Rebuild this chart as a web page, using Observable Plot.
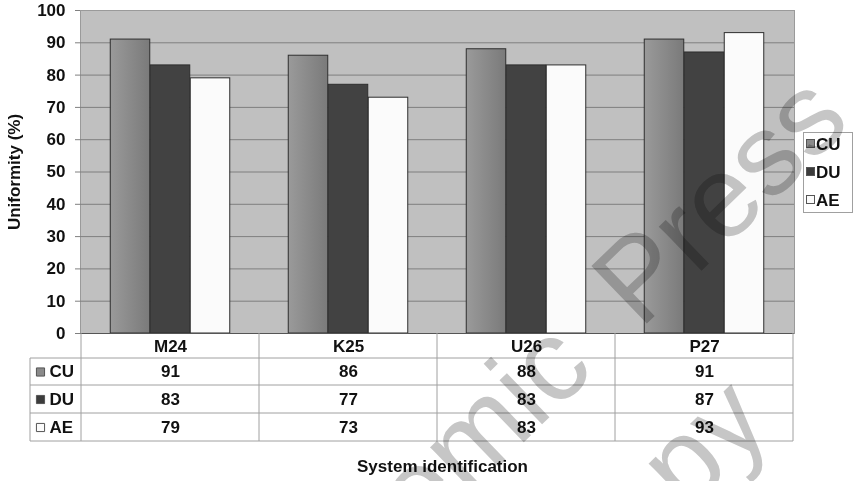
<!DOCTYPE html>
<html><head><meta charset="utf-8">
<script src="https://cdn.jsdelivr.net/npm/d3@7"></script>
<script src="https://cdn.jsdelivr.net/npm/@observablehq/plot@0.6"></script>
<style>
html,body{margin:0;padding:0;background:#fff;}
#chart{position:relative;width:855px;height:481px;overflow:hidden;}
svg{overflow:visible;}
</style></head><body><div id="chart"></div>
<script>
// ---- data ----
const systems = ["M24", "K25", "U26", "P27"];
const series = ["CU", "DU", "AE"];
const cuValues = [91, 86, 88, 91];
const duValues = [83, 77, 83, 87];
const aeValues = [79, 73, 83, 93];
const yTicks = [0, 10, 20, 30, 40, 50, 60, 70, 80, 90, 100];
const yLabel = "Uniformity (%)";
const xLabel = "System identification";
const watermark1a = "Academic";
const watermark1b = "Press";
const watermark2 = "Copy";

// ---- styles ----
const fillBySeries = {CU: "url(#cuGrad)", DU: "#424242", AE: "#fbfbfb"};
const swatchBySeries = {CU: "#8a8a8a", DU: "#3c3c3c", AE: "#fbfbfb"};
const FONT = "'Liberation Sans', Arial, Helvetica, sans-serif";
const W = 855, H = 481, mL = 80, mR = 61, mT = 10, mB = 148;
const bw = (W - mL - mR) / systems.length;
const barW = 40, gap = (bw - 3 * barW) / 2;
const rowDy = [38.5, 66, 94];   // table rows below the x axis
const headDy = 13;
const FS = 17;

const valuesBySeries = {CU: cuValues, DU: duValues, AE: aeValues};
const rows = series.flatMap(s => systems.map((sys, j) => ({series: s, system: sys, value: valuesBySeries[s][j]})));

const txt = {fontSize: FS, fontWeight: "bold", fill: "#111", lineAnchor: "middle"};

const chart = Plot.plot({
  width: W, height: H,
  marginLeft: mL, marginRight: mR, marginTop: mT, marginBottom: mB,
  style: {fontFamily: FONT, background: "transparent", overflow: "visible"},
  x: {domain: systems, padding: 0, axis: null},
  y: {domain: [0, 100], axis: null},
  marks: [
    Plot.frame({fill: "#c0c0c0", stroke: "#9a9a9a"}),
    Plot.ruleY(yTicks.filter(t => t > 0 && t < 100), {stroke: "#7f7f7f", strokeWidth: 1}),
    ...series.map((s, i) => Plot.barY(rows.filter(r => r.series === s), {
      x: "system", y: "value", fill: fillBySeries[s], stroke: "#2e2e2e", strokeWidth: 1,
      insetLeft: gap + barW * i, insetRight: bw - gap - barW * (i + 1)
    })),
    Plot.ruleY([0], {stroke: "#555", strokeWidth: 1}),
    Plot.axisY({ticks: yTicks, tickSize: 5, tickPadding: 10, label: null, stroke: "#808080",
      fontSize: FS, fontWeight: "bold", fill: "#111"}),
    // y-axis title
    Plot.text([yLabel], {frameAnchor: "left", dx: -66, rotate: -90, text: d => d, ...txt, textAnchor: "middle"}),
    // table header (categories)
    Plot.text(systems, {x: d => d, text: d => d, frameAnchor: "bottom", dy: headDy, ...txt}),
    // table values
    ...series.map((s, i) => Plot.text(rows.filter(r => r.series === s), {
      x: "system", text: d => String(d.value), frameAnchor: "bottom", dy: rowDy[i], ...txt
    })),
    // row labels with swatches
    ...series.map((s, i) => Plot.text([s], {frameAnchor: "bottom-left", dx: -31, dy: rowDy[i], textAnchor: "start", text: d => d, ...txt})),
    ...series.map((s, i) => Plot.dot([s], {frameAnchor: "bottom-left", dx: -40, dy: rowDy[i], symbol: "square", r: 4.6, fill: swatchBySeries[s], stroke: "#555", strokeWidth: 1})),
    // x title
    Plot.text([xLabel], {frameAnchor: "bottom", dx: 5, dy: 133, text: d => d, ...txt, textAnchor: "middle"})
  ]
});

document.getElementById("chart").appendChild(chart);

// ---- extras: gradient, table grid, legend, watermark ----
const svg = d3.select(chart);
const defs = svg.insert("defs", ":first-child");
const g = defs.append("linearGradient").attr("id", "cuGrad").attr("x1", "0").attr("x2", "1").attr("y1", "0").attr("y2", "0");
g.append("stop").attr("offset", "0").attr("stop-color", "#9a9a9a");
g.append("stop").attr("offset", "1").attr("stop-color", "#7a7a7a");

const xs = chart.scale("x"), ys = chart.scale("y");
const y0 = ys.apply(0);
const xEnd = xs.apply(systems[systems.length - 1]) + xs.bandwidth;
const grid = svg.append("g").attr("stroke", "#a0a0a0").attr("stroke-width", 1).attr("fill", "none");
const lineYs = [25, 52, 80, 108].map(d => y0 + d);
lineYs.forEach(y => grid.append("line").attr("x1", 30).attr("x2", xEnd).attr("y1", y).attr("y2", y));
systems.forEach(s => grid.append("line").attr("x1", xs.apply(s)).attr("x2", xs.apply(s)).attr("y1", y0).attr("y2", lineYs[3]));
grid.append("line").attr("x1", xEnd).attr("x2", xEnd).attr("y1", y0).attr("y2", lineYs[3]);
grid.append("line").attr("x1", 30).attr("x2", 30).attr("y1", lineYs[0]).attr("y2", lineYs[3]);

// legend
const lg = svg.append("g").attr("font-family", FONT).attr("font-weight", "bold").attr("font-size", FS).attr("text-anchor", "start");
lg.append("rect").attr("x", 803.5).attr("y", 132.5).attr("width", 49).attr("height", 80).attr("fill", "#fff").attr("stroke", "#a0a0a0");
series.forEach((s, i) => {
  const cy = 143.5 + i * 28;
  lg.append("rect").attr("x", 806.5).attr("y", cy - 4).attr("width", 8).attr("height", 8).attr("fill", swatchBySeries[s]).attr("stroke", "#555");
  lg.append("text").attr("x", 816).attr("y", cy).attr("dy", "0.36em").attr("fill", "#111").attr("text-anchor", "start").text(s);
});

// watermark
const wm = svg.append("g").style("mix-blend-mode", "multiply").attr("fill", "#c6c6c6")
  .attr("font-family", FONT).attr("font-size", 116).attr("text-anchor", "start");
const w1 = wm.append("g").attr("transform", "translate(640,330) rotate(-44)");
w1.append("text").attr("text-anchor", "start").text(watermark1b);
w1.append("text").attr("text-anchor", "end").attr("x", -60).text(watermark1a);
wm.append("g").attr("transform", "translate(774,428) rotate(-44)")
  .append("text").attr("text-anchor", "end").text(watermark2);
</script>
</body></html>
